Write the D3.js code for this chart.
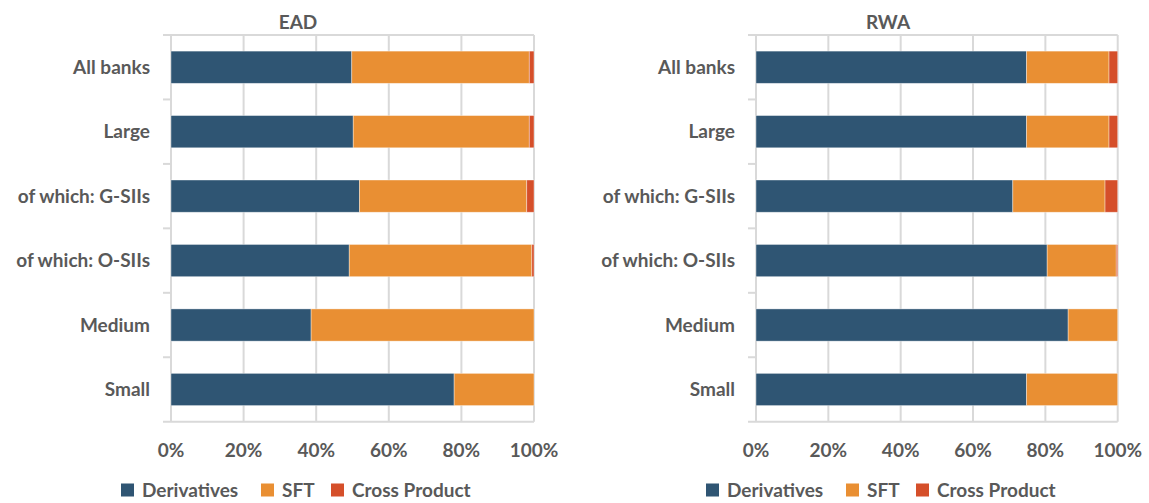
<!DOCTYPE html>
<html>
<head>
<meta charset="utf-8">
<script src="https://cdn.jsdelivr.net/npm/d3@7"></script>
<style>
  body { margin: 0; background: #fff; }
  text { font-family: Lato, "Open Sans", sans-serif; fill: #595959; font-weight: bold; }
</style>
</head>
<body>
<script>
// categories and series (shares of total)
const categories = ["All banks", "Large", "of which: G-SIIs", "of which: O-SIIs", "Medium", "Small"];
const seriesNames = ["Derivatives", "SFT", "Cross Product"];
const colors = ["#2F5573", "#E98F33", "#D54F2A"];

const eadDerivatives = [0.498, 0.502, 0.519, 0.491, 0.386, 0.780];
const eadSFT         = [0.489, 0.485, 0.461, 0.503, 0.614, 0.220];
const eadCross       = [0.013, 0.013, 0.020, 0.006, 0.000, 0.000];

const rwaDerivatives = [0.748, 0.748, 0.710, 0.805, 0.863, 0.748];
const rwaSFT         = [0.228, 0.228, 0.255, 0.191, 0.137, 0.252];
const rwaCross       = [0.024, 0.024, 0.035, 0.004, 0.000, 0.000];

const tickValues = [0, 0.2, 0.4, 0.6, 0.8, 1];

const svg = d3.select("body").append("svg")
  .attr("width", 1149)
  .attr("height", 503);

function drawPanel(title, values, x0, x1, titleX, legendX) {
  const top = 35, bottom = 421.7;

  const x = d3.scaleLinear().domain([0, 1]).range([x0, x1]);
  const y = d3.scaleBand().domain(categories).range([top, bottom]).paddingInner(0.5).paddingOuter(0.25);

  const rows = categories.map((c, i) => {
    const r = { cat: c };
    seriesNames.forEach((s, j) => r[s] = values[j][i]);
    return r;
  });
  const stacked = d3.stack().keys(seriesNames)(rows);

  const g = svg.append("g");

  // gridlines
  g.selectAll("line.grid").data(tickValues)
    .enter().append("line")
      .attr("x1", d => x(d)).attr("x2", d => x(d))
      .attr("y1", top).attr("y2", bottom)
      .attr("stroke", "#D9D9D9").attr("stroke-width", 2);

  // top and bottom lines + category tick marks
  const bounds = d3.range(categories.length + 1).map(i => top + i * (bottom - top) / categories.length);
  g.selectAll("line.edge").data([top, bottom])
    .enter().append("line")
      .attr("x1", x0 - 8).attr("x2", x1)
      .attr("y1", d => d).attr("y2", d => d)
      .attr("stroke", "#D9D9D9").attr("stroke-width", 2);
  g.selectAll("line.ctick").data(bounds.slice(1, -1))
    .enter().append("line")
      .attr("x1", x0 - 8).attr("x2", x0)
      .attr("y1", d => d).attr("y2", d => d)
      .attr("stroke", "#D9D9D9").attr("stroke-width", 2);

  // bars
  g.selectAll("g.series").data(stacked)
    .enter().append("g")
      .attr("fill", (d, i) => colors[i])
    .selectAll("rect").data(d => d)
    .enter().append("rect")
      .attr("x", d => x(d[0]))
      .attr("width", d => Math.max(0, x(d[1]) - x(d[0])))
      .attr("y", d => y(d.data.cat))
      .attr("height", y.bandwidth())
      .attr("stroke", "#fff").attr("stroke-opacity", 0.5).attr("stroke-width", 0.75);

  // category labels
  g.selectAll("text.cat").data(categories)
    .enter().append("text")
      .attr("x", x0 - 21)
      .attr("y", d => y(d) + y.bandwidth() / 2)
      .attr("dy", "0.35em")
      .attr("text-anchor", "end")
      .style("font-size", "19px")
      .text(d => d);

  // x tick labels
  g.selectAll("text.tick").data(tickValues)
    .enter().append("text")
      .attr("x", d => x(d))
      .attr("y", 450)
      .attr("dy", "0.35em")
      .attr("text-anchor", "middle")
      .style("font-size", "19px")
      .text(d3.format(".0%"));

  // title
  g.append("text")
    .attr("x", titleX).attr("y", 22)
    .attr("dy", "0.35em")
    .attr("text-anchor", "middle")
    .style("font-size", "19px")
    .text(title);

  // legend
  const legendOffsets = [0, 140, 210];
  const lg = g.selectAll("g.legend").data(seriesNames)
    .enter().append("g")
      .attr("transform", (d, i) => `translate(${legendX + legendOffsets[i]},490)`);
  lg.append("rect")
    .attr("x", 0).attr("y", -6.5).attr("width", 13).attr("height", 13)
    .attr("fill", (d, i) => colors[i]);
  lg.append("text")
    .attr("x", 21).attr("dy", "0.35em")
    .style("font-size", "19px")
    .text(d => d);
}

drawPanel("EAD", [eadDerivatives, eadSFT, eadCross], 171, 534, 298, 121);
drawPanel("RWA", [rwaDerivatives, rwaSFT, rwaCross], 756, 1117.7, 888, 706);
</script>
</body>
</html>
